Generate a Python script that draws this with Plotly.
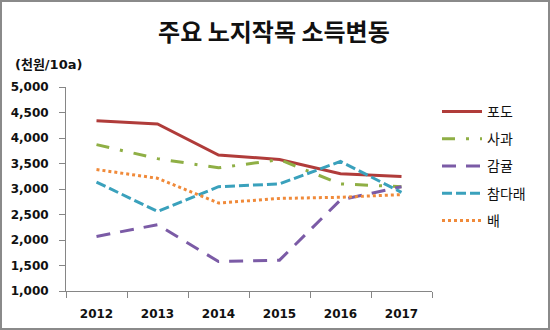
import plotly.graph_objects as go

years = ["2012", "2013", "2014", "2015", "2016", "2017"]
grape = [4340, 4275, 3665, 3580, 3300, 3245]
apple = [3870, 3595, 3415, 3575, 3100, 3045]
tangerine = [2070, 2300, 1578, 1605, 2785, 3045]
kiwi = [3135, 2560, 3045, 3100, 3540, 2935]
pear = [3382, 3210, 2725, 2815, 2838, 2890]

names = ["포도", "사과", "감귤", "참다래", "배"]
series = [grape, apple, tangerine, kiwi, pear]
colors = ["#B03C3A", "#8FAF45", "#7B5BA6", "#3AA1BC", "#F08A3A"]
dashes = ["solid", "13px,11px,3px,11px", "14px,10px", "10px,4px", "3px,3px"]

FONT = "DejaVu Sans, Noto Sans CJK KR, sans-serif"
KFONT = "Noto Sans CJK KR, DejaVu Sans, sans-serif"

fig = go.Figure()
for i, (n, s) in enumerate(zip(names, series)):
    fig.add_trace(go.Scatter(
        x=years, y=s, name=n, mode="lines", legendgroup=f"g{i}",
        line=dict(color=colors[i], width=3, dash=dashes[i]),
    ))

W, H = 550, 330
ml, mr, mt, mb = 66, 118, 87, 39
pw, ph = W - ml - mr, H - mt - mb

fig.update_layout(
    width=W, height=H,
    margin=dict(l=ml, r=mr, t=mt, b=mb, autoexpand=False),
    paper_bgcolor="white", plot_bgcolor="white",
    title=dict(text="주요 노지작목 소득변동", x=0.498, xanchor="center",
               y=1 - 33 / H, yanchor="middle", yref="container",
               font=dict(family=KFONT, size=24, color="#111", weight="bold")),
    showlegend=True,
    legend=dict(x=1.0 + 5 / pw, xanchor="left", y=1 - (96 - mt) / ph, yanchor="top",
                font=dict(family=KFONT, size=14, color="#111"),
                tracegroupgap=6, traceorder="grouped", itemwidth=40,
                bgcolor="rgba(0,0,0,0)"),
    xaxis=dict(type="category", range=[-0.5, 5.5], showgrid=False,
               showline=True, linecolor="#868686", linewidth=1,
               ticks="outside", ticklen=6, tickcolor="#868686",
               tickson="boundaries", ticklabelstandoff=12, automargin=False,
               tickfont=dict(family=FONT, size=12, color="#111", weight="bold")),
    yaxis=dict(range=[1000, 5000], dtick=500, tickformat=",", showgrid=False,
               zeroline=False, showline=True, linecolor="#868686", linewidth=1,
               ticks="outside", ticklen=6, tickcolor="#868686",
               ticklabelstandoff=8, automargin=False,
               tickfont=dict(family=FONT, size=12, color="#111", weight="bold")),
)

fig.add_annotation(text="(천원/10a)", xref="paper", yref="paper",
                   x=(13 - ml) / pw, xanchor="left",
                   y=1 + (mt - 65) / ph, yanchor="middle", showarrow=False,
                   font=dict(family=FONT, size=13, color="#111", weight="bold"))

fig.add_shape(type="rect", xref="paper", yref="paper",
              x0=(1 - ml) / pw, x1=(W - 1 - ml) / pw,
              y0=-(mb - 1) / ph, y1=1 + (mt - 1) / ph,
              line=dict(color="#8a8a8a", width=2), fillcolor="rgba(0,0,0,0)",
              layer="below")

fig.write_html("out.html")
